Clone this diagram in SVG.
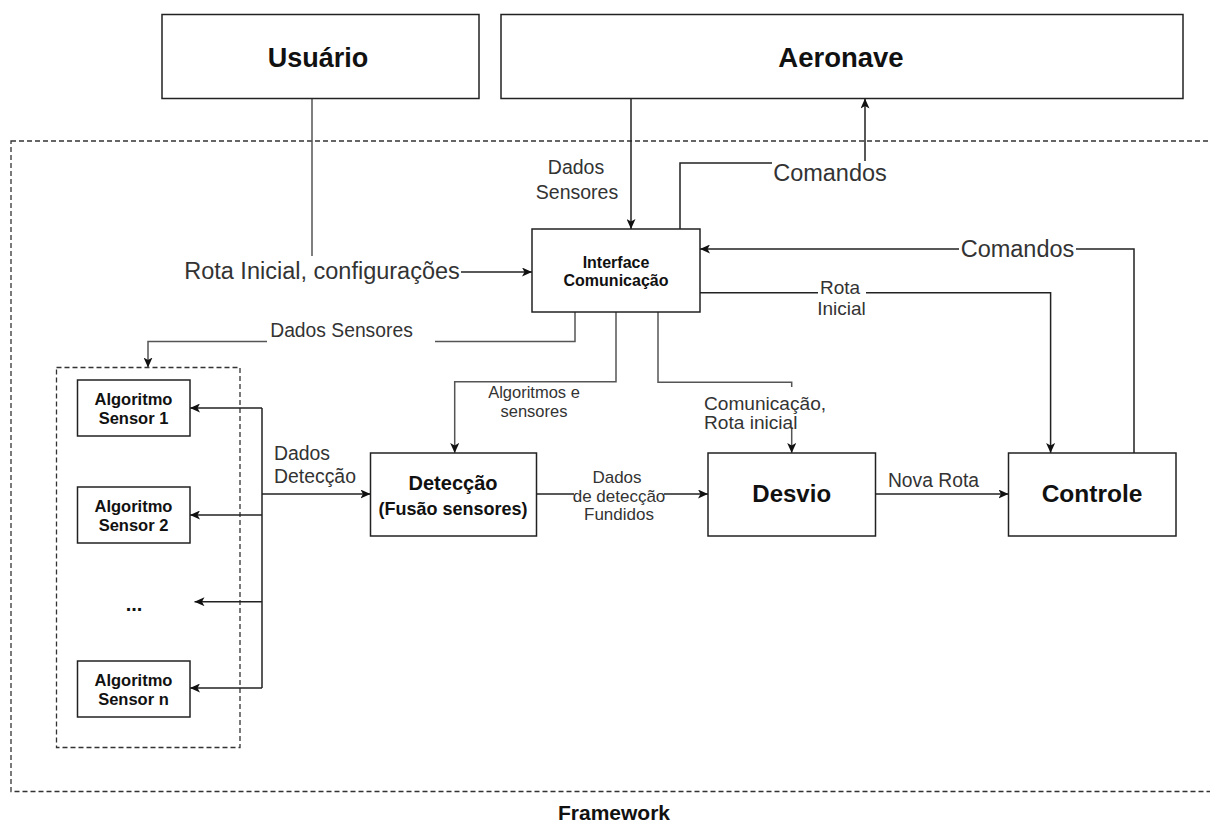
<svg xmlns="http://www.w3.org/2000/svg" width="1210" height="824" viewBox="0 0 1210 824">
  <style>
    .box { fill: #ffffff; stroke: #222222; stroke-width: 1.5; }
    .frame { fill: none; stroke: #333333; stroke-width: 1.3; stroke-dasharray: 5 3; }
    .title { font-family: "Liberation Sans", Arial, sans-serif; font-weight: bold; fill: #111111; text-anchor: middle; }
    .lbl { font-family: "Liberation Sans", Arial, sans-serif; fill: #333333; }
    .mid { text-anchor: middle; }
    .edge { fill: none; stroke: #222222; stroke-width: 1.5; }
    .soft { fill: none; stroke: #555555; stroke-width: 1.5; }
    .mask { fill: #ffffff; stroke: none; }
  </style>
  <defs>
    <marker id="arrow" viewBox="0 0 10 9" refX="10" refY="4.5" markerWidth="10" markerHeight="9" markerUnits="userSpaceOnUse" orient="auto">
      <path d="M0,0 L10,4.5 L0,9 L2.5,4.5 z" fill="#111111"/>
    </marker>
  </defs>

  <rect width="1210" height="824" fill="#ffffff"/>

  <!-- framework boundary and sensor-algorithm group -->
  <rect class="frame" x="11" y="141" width="1215" height="650.5"/>
  <rect class="frame" x="56.5" y="367.5" width="183.5" height="380"/>
  <text class="title" x="614" y="820" font-size="21">Framework</text>

  <!-- connectors -->
  <g id="connectors">
    <!-- user -> interface -->
    <path class="soft" d="M312,98.5 V256"/>
    <path class="edge" d="M461,272 H532" marker-end="url(#arrow)"/>
    <text class="lbl mid" x="322" y="279" font-size="23.5">Rota Inicial, configurações</text>

    <!-- aircraft -> interface -->
    <path class="edge" d="M631,98.5 V229" marker-end="url(#arrow)"/>
    <text class="lbl mid" x="576" y="174" font-size="19.5">Dados</text>
    <text class="lbl mid" x="577" y="199" font-size="19.5">Sensores</text>

    <!-- interface -> aircraft -->
    <path class="edge" d="M680,229 V163 H865 V98.5" marker-end="url(#arrow)"/>
    <rect class="mask" x="772" y="161" width="116" height="27"/>
    <text class="lbl mid" x="830" y="181" font-size="23.5">Comandos</text>

    <!-- control -> interface -->
    <path class="edge" d="M1134,453 V249 H700" marker-end="url(#arrow)"/>
    <rect class="mask" x="959" y="237" width="117" height="25"/>
    <text class="lbl mid" x="1017.5" y="257" font-size="23.5">Comandos</text>

    <!-- interface -> control (initial route) -->
    <path class="edge" d="M700,292.7 H1050.6 V453" marker-end="url(#arrow)"/>
    <rect class="mask" x="818" y="280" width="48" height="18"/>
    <text class="lbl mid" x="840" y="294" font-size="19">Rota</text>
    <text class="lbl mid" x="841.5" y="315" font-size="19">Inicial</text>

    <!-- interface -> sensor algorithms -->
    <path class="soft" d="M575,312 V341.5 H148 V367.5" marker-end="url(#arrow)"/>
    <rect class="mask" x="267" y="320" width="168" height="26"/>
    <text class="lbl mid" x="341.5" y="337" font-size="19.3">Dados Sensores</text>

    <!-- interface -> detection -->
    <path class="soft" d="M616,312 V381.7 H454.7 V453" marker-end="url(#arrow)"/>
    <text class="lbl mid" x="534" y="398" font-size="16.5">Algoritmos e</text>
    <text class="lbl mid" x="534" y="417" font-size="16.5">sensores</text>

    <!-- interface -> avoidance -->
    <path class="soft" d="M658,312 V382.3 H791.7 V453" marker-end="url(#arrow)"/>
    <rect class="mask" x="702" y="387" width="126" height="40"/>
    <text class="lbl" x="704" y="409.5" font-size="19.1">Comunicação,</text>
    <text class="lbl" x="704" y="429" font-size="19.1">Rota inicial</text>

    <!-- detection bus to the sensor algorithms -->
    <path class="edge" d="M262,408 V688"/>
    <path class="edge" d="M262,408 H190" marker-end="url(#arrow)"/>
    <path class="edge" d="M262,515 H190" marker-end="url(#arrow)"/>
    <path class="edge" d="M262,601.7 H194.5" marker-end="url(#arrow)"/>
    <path class="edge" d="M262,688 H190" marker-end="url(#arrow)"/>
    <path class="edge" d="M262,494 H370.5" marker-end="url(#arrow)"/>
    <text class="lbl" x="274" y="460" font-size="19.4">Dados</text>
    <text class="lbl" x="274" y="483" font-size="19.4">Detecção</text>

    <!-- detection -> avoidance -->
    <path class="edge" d="M537,494 H708" marker-end="url(#arrow)"/>
    <rect class="mask" x="574" y="487" width="90" height="15"/>
    <text class="lbl mid" x="617" y="482.7" font-size="17">Dados</text>
    <text class="lbl mid" x="619" y="501.7" font-size="17">de detecção</text>
    <text class="lbl mid" x="619" y="520" font-size="17">Fundidos</text>

    <!-- avoidance -> control -->
    <path class="edge" d="M875.5,494 H1008.5" marker-end="url(#arrow)"/>
    <text class="lbl mid" x="933.5" y="486.7" font-size="19.3">Nova Rota</text>
  </g>

  <!-- nodes -->
  <g id="usuario">
    <rect class="box" x="162" y="14.5" width="317" height="84"/>
    <text class="title" x="318" y="67" font-size="27">Usuário</text>
  </g>
  <g id="aeronave">
    <rect class="box" x="501" y="14.5" width="682" height="84"/>
    <text class="title" x="841" y="67" font-size="27.5">Aeronave</text>
  </g>
  <g id="interface">
    <rect class="box" x="532" y="229" width="168" height="83"/>
    <text class="title" x="616" y="267.5" font-size="16">Interface</text>
    <text class="title" x="616" y="286" font-size="16">Comunicação</text>
  </g>
  <g id="deteccao">
    <rect class="box" x="370.5" y="453" width="166" height="83"/>
    <text class="title" x="453" y="490" font-size="20">Detecção</text>
    <text class="title" x="453" y="514.5" font-size="18">(Fusão sensores)</text>
  </g>
  <g id="desvio">
    <rect class="box" x="708" y="453" width="167.5" height="83"/>
    <text class="title" x="791.7" y="502" font-size="24">Desvio</text>
  </g>
  <g id="controle">
    <rect class="box" x="1008.5" y="453" width="167.5" height="83"/>
    <text class="title" x="1092" y="502" font-size="24.5">Controle</text>
  </g>
  <g id="sensor1">
    <rect class="box" x="77.5" y="380" width="112.5" height="56"/>
    <text class="title" x="133.5" y="405" font-size="16.5">Algoritmo</text>
    <text class="title" x="133.5" y="424" font-size="16.5">Sensor 1</text>
  </g>
  <g id="sensor2">
    <rect class="box" x="77.5" y="487" width="112.5" height="56"/>
    <text class="title" x="133.5" y="512" font-size="16.5">Algoritmo</text>
    <text class="title" x="133.5" y="531" font-size="16.5">Sensor 2</text>
  </g>
  <g id="sensor-dots">
    <text class="title" x="134" y="611" font-size="20">...</text>
  </g>
  <g id="sensorN">
    <rect class="box" x="77.5" y="661" width="112.5" height="56"/>
    <text class="title" x="133.5" y="686" font-size="16.5">Algoritmo</text>
    <text class="title" x="133.5" y="705" font-size="16.5">Sensor n</text>
  </g>
</svg>
